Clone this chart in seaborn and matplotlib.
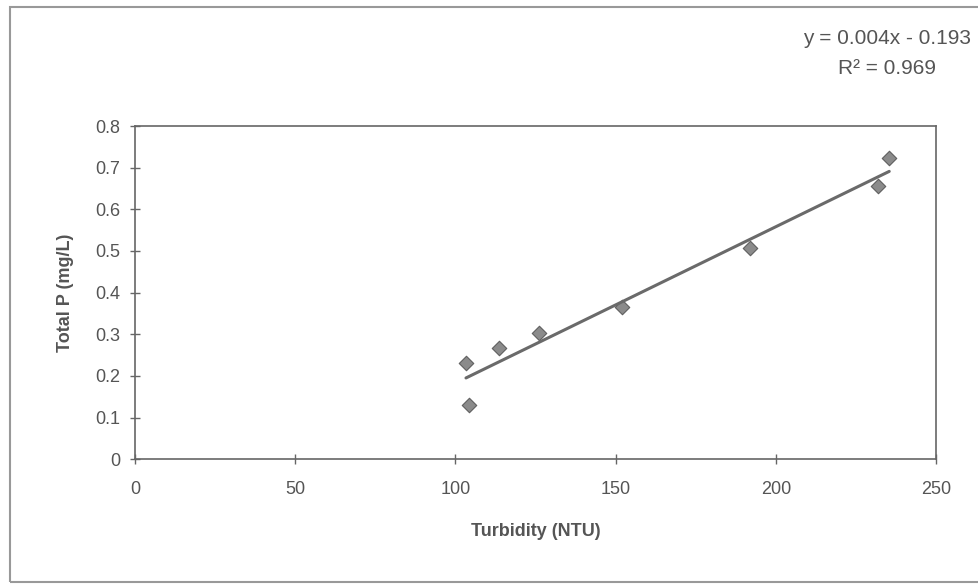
import numpy as np
import pandas as pd
import seaborn as sns
import matplotlib.pyplot as plt
from matplotlib.patches import Rectangle
from matplotlib.ticker import FuncFormatter

# values
turbidity = [103.3, 104.3, 113.6, 126.1, 151.9, 191.9, 231.8, 235.4]
total_p = [0.230, 0.130, 0.266, 0.304, 0.366, 0.506, 0.657, 0.724]
equation = "y = 0.004x - 0.193"
r_squared = "R² = 0.969"

df = pd.DataFrame({"Turbidity": turbidity, "TotalP": total_p})

sns.set_style("white")
plt.rcParams["font.family"] = ["Liberation Sans", "DejaVu Sans"]

grey = "#555555"
fig = plt.figure(figsize=(9.79, 5.85), dpi=100)
ax = fig.add_axes([0.1379, 0.2149, 0.8182, 0.5697])

sns.regplot(data=df, x="Turbidity", y="TotalP", ax=ax, ci=None, marker="D",
            scatter_kws=dict(s=55, color="#6e6e6e", edgecolor="#4a4a4a", linewidths=0.8),
            line_kws=dict(color="#6a6a6a", linewidth=2.2))

ax.set_xlim(0, 250)
ax.set_ylim(0, 0.8)
ax.set_xticks(np.arange(0, 251, 50))
ax.set_yticks(np.arange(0, 0.81, 0.1))
ax.yaxis.set_major_formatter(FuncFormatter(lambda v, p: "0" if abs(v) < 1e-9 else f"{v:.1f}"))

for s in ax.spines.values():
    s.set_color("#666666")
    s.set_linewidth(1.2)
ax.tick_params(axis="both", direction="inout", length=7, width=1, color="#666666",
               labelcolor=grey, labelsize=13, bottom=True, left=True)
ax.tick_params(axis="x", pad=12)
ax.tick_params(axis="y", pad=7)

ax.set_xlabel("Turbidity (NTU)", fontsize=13, fontweight="bold", color=grey, labelpad=18)
ax.set_ylabel("Total P (mg/L)", fontsize=13, fontweight="bold", color=grey, labelpad=15)

fig.text(887 / 979, 1 - 38 / 585, equation, ha="center", va="center", fontsize=15, color=grey)
fig.text(887 / 979, 1 - 68 / 585, r_squared, ha="center", va="center", fontsize=15, color=grey)

# outer chart frame
fig.patches.append(Rectangle((10 / 979, 3 / 585), 1.2, 1 - 10 / 585, transform=fig.transFigure,
                             fill=False, edgecolor="#999999", linewidth=1.5))

fig.savefig("out.png", dpi=100)
